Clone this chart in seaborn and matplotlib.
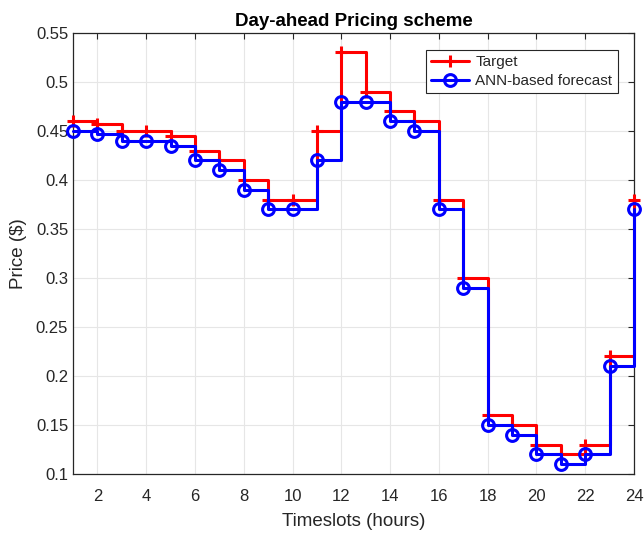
import numpy as np
import matplotlib
matplotlib.use("Agg")
import matplotlib.pyplot as plt
import seaborn as sns

# Hourly day-ahead prices
hours = list(range(1, 25))
target = [0.46, 0.457, 0.45, 0.45, 0.445, 0.43, 0.42, 0.40, 0.38, 0.38, 0.45, 0.53,
          0.49, 0.47, 0.46, 0.38, 0.30, 0.16, 0.15, 0.13, 0.12, 0.13, 0.22, 0.38]
forecast = [0.45, 0.447, 0.44, 0.44, 0.435, 0.42, 0.41, 0.39, 0.37, 0.37, 0.42, 0.48,
            0.48, 0.46, 0.45, 0.37, 0.29, 0.15, 0.14, 0.12, 0.11, 0.12, 0.21, 0.37]

sns.set_style("whitegrid", {"grid.color": "#e6e6e6", "axes.edgecolor": "#262626"})
plt.rcParams["font.family"] = ["Liberation Sans", "DejaVu Sans"]

fig = plt.figure(figsize=(6.44, 5.34), dpi=100)
ax = fig.add_axes([0.1134, 0.1124, 0.871, 0.826])

sns.lineplot(x=hours, y=target, ax=ax, color="red", lw=2.2, drawstyle="steps-post",
             marker="+", markersize=8.5, mew=2.2, mec="red", clip_on=False,
             zorder=3, label="Target")
sns.lineplot(x=hours, y=forecast, ax=ax, color="blue", lw=2.2, drawstyle="steps-post",
             marker="o", markersize=8.5, mew=2.2, mfc="none", mec="blue",
             clip_on=False, zorder=3, label="ANN-based forecast")

ax.set_xlim(1, 24)
ax.set_ylim(0.1, 0.55)
ax.set_xticks(range(2, 25, 2))
yt = np.round(np.arange(0.1, 0.5501, 0.05), 2)
ax.set_yticks(yt)
ax.set_yticklabels([f"{v:g}" for v in yt])
ax.tick_params(direction="in", length=4, width=0.8, colors="#262626", labelsize=12,
               top=True, right=True, labelcolor="#262626")
ax.tick_params(axis="x", pad=11)
for s in ax.spines.values():
    s.set_linewidth(0.9)
    s.set_color("#262626")

ax.set_title("Day-ahead Pricing scheme", fontsize=13.5, fontweight="bold", color="black",
             pad=5)
ax.set_xlabel("Timeslots (hours)", fontsize=13.5, color="#262626", labelpad=6)
ax.set_ylabel("Price ($)", fontsize=13.5, color="#262626", labelpad=6)

leg = ax.legend(loc="upper right", bbox_to_anchor=(0.971, 0.961), borderaxespad=0,
                fontsize=11, fancybox=False, framealpha=1, edgecolor="#262626",
                handlelength=2.5, borderpad=0.35, labelspacing=0.3, handletextpad=0.4)
leg.get_frame().set_linewidth(0.8)

fig.savefig("out.png", dpi=100)
